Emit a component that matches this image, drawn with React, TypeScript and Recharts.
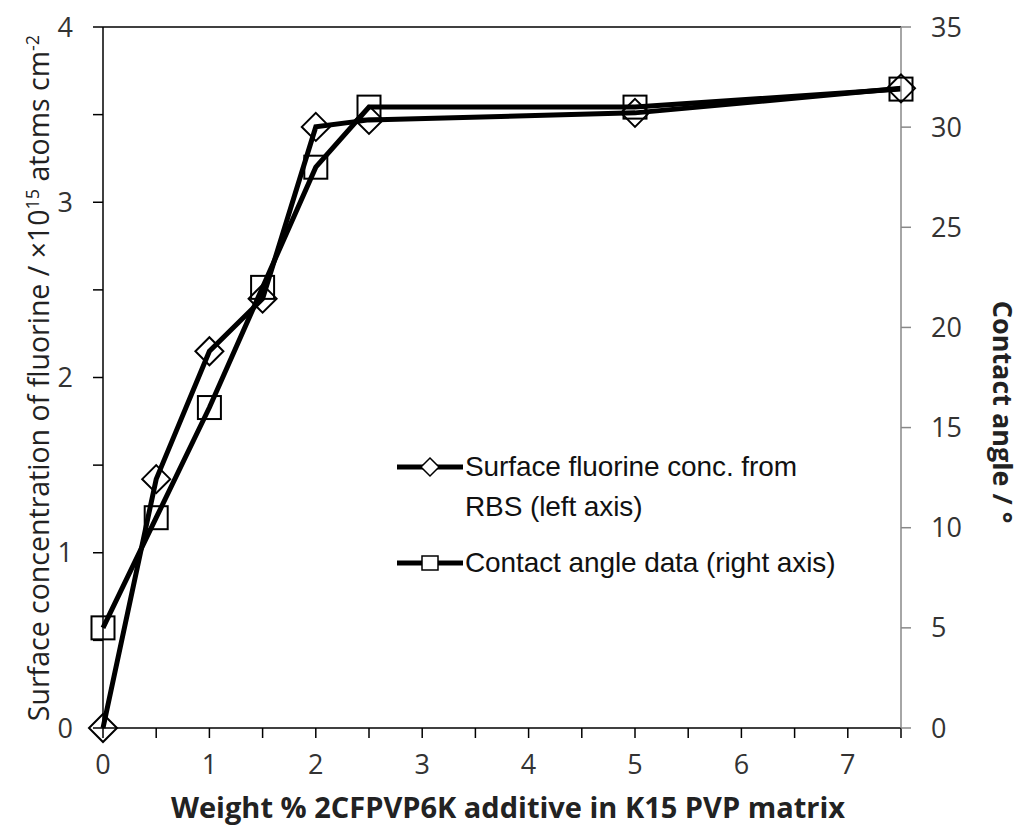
import React from 'react';
import { LineChart, Line, XAxis, YAxis, ReferenceLine } from 'recharts';

// weight % additive
const weightPct = [0, 0.5, 1, 1.5, 2, 2.5, 5, 7.5];
// surface fluorine conc. (x10^15 atoms cm^-2), left axis
const fluorineConc = [0, 1.42, 2.15, 2.45, 3.43, 3.47, 3.51, 3.65];
// contact angle (deg), right axis
const contactAngle = [5, 10.5, 16, 22, 28, 31, 31, 31.9];

const xTicks = [0, 0.5, 1, 1.5, 2, 2.5, 3, 3.5, 4, 4.5, 5, 5.5, 6, 6.5, 7, 7.5];
const leftTicks = [0, 0.5, 1, 1.5, 2, 2.5, 3, 3.5, 4];
const rightTicks = [0, 5, 10, 15, 20, 25, 30, 35];

const data = weightPct.map((w, i) => ({ w, fluorine: fluorineConc[i], angle: contactAngle[i] }));

const tickFont = { fontFamily: '"Open Sans", sans-serif', fontSize: 27, fill: '#333' };
const intOnly = (v: number) => (Number.isInteger(v) ? String(v) : '');

const Diamond = (props: any) => {
  const { cx, cy } = props;
  if (cx == null || cy == null) return null;
  const r = 14;
  return (
    <path
      d={`M${cx},${cy - r} L${cx + r},${cy} L${cx},${cy + r} L${cx - r},${cy} Z`}
      fill="none"
      stroke="#000"
      strokeWidth={2}
    />
  );
};

const Square = (props: any) => {
  const { cx, cy } = props;
  if (cx == null || cy == null) return null;
  const s = 11.5;
  return <rect x={cx - s} y={cy - s} width={s * 2} height={s * 2} fill="none" stroke="#000" strokeWidth={2} />;
};

const legendText = {
  fontFamily: '"Liberation Sans", Arial, sans-serif',
  fontSize: 28,
  color: '#111',
  letterSpacing: -0.1,
  lineHeight: '40px',
};

export default function App() {
  return (
    <div style={{ position: 'absolute', left: 0, top: 0, width: 1030, height: 834, background: '#fff' }}>
      <LineChart width={1030} height={834} data={data} margin={{ top: 27, right: 0, bottom: 0, left: 0 }}>
        <XAxis
          dataKey="w"
          type="number"
          domain={[0, 7.5]}
          ticks={xTicks}
          tickFormatter={intOnly}
          height={106}
          tickSize={10}
          tickMargin={17}
          tick={tickFont}
          stroke="#000"
          strokeWidth={1.5}
        />
        <YAxis
          yAxisId="left"
          domain={[0, 4]}
          ticks={leftTicks}
          tickFormatter={intOnly}
          width={103}
          tickSize={10}
          tickMargin={20}
          tick={tickFont}
          stroke="#000"
          strokeWidth={1.5}
        />
        <YAxis
          yAxisId="right"
          orientation="right"
          domain={[0, 35]}
          ticks={rightTicks}
          width={129}
          tickSize={10}
          tickMargin={20}
          tick={tickFont}
          stroke="#888"
          strokeWidth={1.5}
        />
        <ReferenceLine yAxisId="left" y={4} stroke="#000" strokeWidth={1.5} />
        <Line
          yAxisId="left"
          dataKey="fluorine"
          stroke="#000"
          strokeWidth={5}
          dot={<Diamond />}
          activeDot={false}
          isAnimationActive={false}
        />
        <Line
          yAxisId="right"
          dataKey="angle"
          stroke="#000"
          strokeWidth={5}
          dot={<Square />}
          activeDot={false}
          isAnimationActive={false}
        />
      </LineChart>

      <div
        style={{
          position: 'absolute',
          left: 508,
          top: 806,
          transform: 'translate(-50%, -50%)',
          whiteSpace: 'nowrap',
          fontFamily: '"Open Sans", sans-serif',
          fontWeight: 700,
          fontSize: 29,
          color: '#222',
        }}
      >
        Weight % 2CFPVP6K additive in K15 PVP matrix
      </div>

      <div
        style={{
          position: 'absolute',
          left: 38,
          top: 378,
          transform: 'translate(-50%, -50%) rotate(-90deg)',
          whiteSpace: 'nowrap',
          fontFamily: '"Open Sans", sans-serif',
          fontSize: 28.5,
          color: '#222',
        }}
      >
        Surface concentration of fluorine / ×10<sup style={{ fontSize: 18 }}>15</sup> atoms cm
        <sup style={{ fontSize: 18 }}>-2</sup>
      </div>

      <div
        style={{
          position: 'absolute',
          left: 1003,
          top: 412,
          transform: 'translate(-50%, -50%) rotate(90deg)',
          whiteSpace: 'nowrap',
          fontFamily: '"Open Sans", sans-serif',
          fontWeight: 700,
          fontSize: 27,
          color: '#222',
        }}
      >
        Contact angle / °
      </div>

      <div style={{ position: 'absolute', left: 397, top: 447 }}>
        <div style={{ display: 'flex', alignItems: 'flex-start' }}>
          <svg width={68} height={40} style={{ flex: 'none' }}>
            <line x1={0} y1={20} x2={66} y2={20} stroke="#000" strokeWidth={5} />
            <path d="M33,11 L42,20 L33,29 L24,20 Z" fill="#fff" stroke="#000" strokeWidth={1.5} />
          </svg>
          <div style={legendText}>
            Surface fluorine conc. from
            <br />
            RBS (left axis)
          </div>
        </div>
        <div style={{ display: 'flex', alignItems: 'flex-start', marginTop: 16 }}>
          <svg width={68} height={40} style={{ flex: 'none' }}>
            <line x1={0} y1={20} x2={66} y2={20} stroke="#000" strokeWidth={5} />
            <rect x={25} y={13} width={16} height={14} fill="#fff" stroke="#000" strokeWidth={1.5} />
          </svg>
          <div style={legendText}>Contact angle data (right axis)</div>
        </div>
      </div>
    </div>
  );
}
